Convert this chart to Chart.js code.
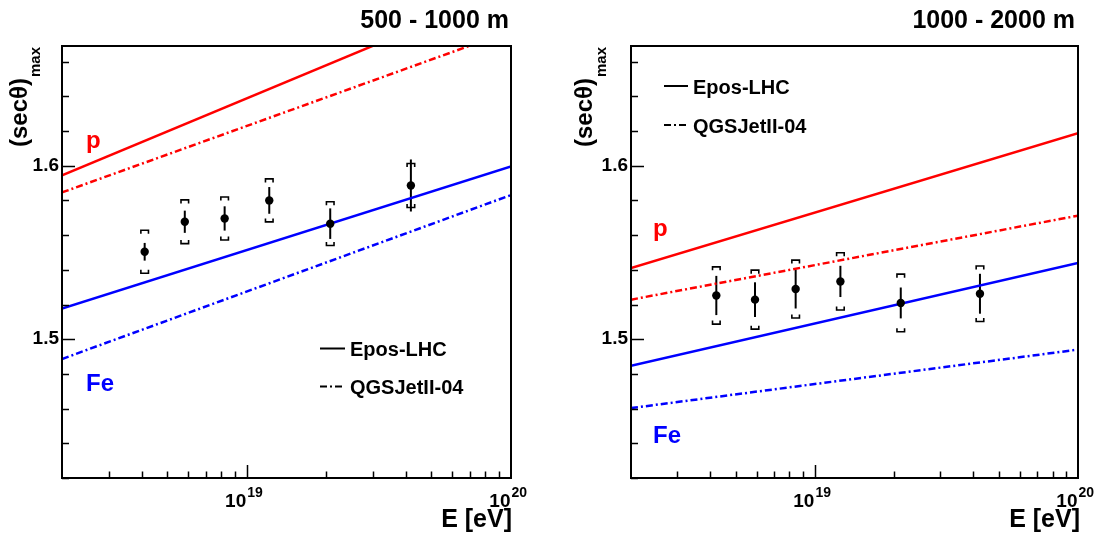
<!DOCTYPE html>
<html><head><meta charset="utf-8">
<script src="https://cdn.jsdelivr.net/npm/chart.js@4.4.1/dist/chart.umd.min.js"></script>
<style>
html,body{margin:0;padding:0;background:#fff;}
#wrap{position:relative;width:1100px;height:538px;overflow:hidden;}
.panel{position:absolute;top:0;width:550px;height:538px;}
</style></head><body>
<div id="wrap">
<div class="panel" style="left:0"><canvas id="c1"></canvas></div>
<div class="panel" style="left:550px"><canvas id="c2"></canvas></div>
</div>
<script>
// ---------- data ----------
const panelTitles = ['500 - 1000 m', '1000 - 2000 m'];
const legendLabels = ['Epos-LHC', 'QGSJetII-04'];
const primaryLabels = ['p', 'Fe'];
const yTickLabels = [1.5, 1.6];
const xTickValues = [1e19, 1e20];
const xTickBases = ['10', '10'];
const xTickExps = ['19', '20'];
const xAxisTitle = 'E [eV]';
const yAxisTitle = '(secθ)';
const yAxisSub = 'max';

const nearEnergy = [4.11e18, 5.83e18, 8.25e18, 1.217e19, 2.07e19, 4.18e19];
const nearSecMax = [1.5504, 1.5677, 1.5696, 1.5800, 1.5666, 1.5886];
const nearStat   = [0.0051, 0.0064, 0.0070, 0.0077, 0.0088, 0.0150];
const nearSys    = [0.0124, 0.0126, 0.0124, 0.0124, 0.0126, 0.0127];

const farEnergy = [4.22e18, 5.92e18, 8.45e18, 1.25e19, 2.12e19, 4.24e19];
const farSecMax = [1.5252, 1.5228, 1.5289, 1.5333, 1.5209, 1.5262];
const farStat   = [0.0113, 0.0100, 0.0112, 0.0090, 0.0089, 0.0115];
const farSys    = [0.0165, 0.0170, 0.0167, 0.0165, 0.0166, 0.0160];

const lineEnergy = [2e18, 1e20];
const nearProtonEpos = [1.5944, 1.7023];
const nearProtonQgs  = [1.5846, 1.6777];
const nearIronEpos   = [1.5176, 1.5996];
const nearIronQgs    = [1.4886, 1.5831];
const farProtonEpos  = [1.5410, 1.6188];
const farProtonQgs   = [1.5228, 1.5712];
const farIronEpos    = [1.4847, 1.5439];
const farIronQgs     = [1.4603, 1.4940];

const xRange = [2e18, 1e20];
const yRange = [1.42, 1.669];
const yStep = 0.02;

// ---------- style ----------
const FONT = '"Liberation Sans", Arial, Helvetica, sans-serif';
const RED = '#ff0000', BLUE = '#0000ff';
const DASHDOT = [7, 3, 2, 3];

function bold(size) { return 'bold ' + size + 'px ' + FONT; }

function makePanel(canvasId, d, L) {
  const pts = d.energy.map((e, i) => ({x: e, y: d.sec[i]}));
  const line = vals => lineEnergy.map((e, i) => ({x: e, y: vals[i]}));
  const lineDs = (vals, color, dash) => ({
    data: line(vals), borderColor: color, borderWidth: 2.5, borderDash: dash || [],
    showLine: true, pointRadius: 0, order: 2, clip: 0
  });

  const plugin = {
    id: 'rootStyle',
    beforeDatasetsDraw(chart) {
      const c = chart.ctx, xs = chart.scales.x, ys = chart.scales.y;
      c.save();
      c.strokeStyle = '#000';
      d.energy.forEach((e, i) => {
        const x = xs.getPixelForValue(e);
        c.lineWidth = 2;
        c.beginPath();
        c.moveTo(x, ys.getPixelForValue(d.sec[i] + d.stat[i]));
        c.lineTo(x, ys.getPixelForValue(d.sec[i] - d.stat[i]));
        c.stroke();
        const yt = ys.getPixelForValue(d.sec[i] + d.sys[i]);
        const yb = ys.getPixelForValue(d.sec[i] - d.sys[i]);
        c.lineWidth = 1.6;
        c.beginPath();
        c.moveTo(x - 3.8, yt + 3.5); c.lineTo(x - 3.8, yt); c.lineTo(x + 3.8, yt); c.lineTo(x + 3.8, yt + 3.5);
        c.moveTo(x - 3.8, yb - 3.5); c.lineTo(x - 3.8, yb); c.lineTo(x + 3.8, yb); c.lineTo(x + 3.8, yb - 3.5);
        c.stroke();
      });
      c.restore();
    },
    afterDraw(chart) {
      const c = chart.ctx, a = chart.chartArea, xs = chart.scales.x, ys = chart.scales.y;
      c.save();
      c.strokeStyle = '#000';
      c.lineWidth = 2;
      c.strokeRect(a.left, a.top, a.right - a.left, a.bottom - a.top);
      c.lineWidth = 1.5;
      c.beginPath();
      ys.ticks.forEach(t => {
        if (t.value < yRange[0] - 1e-9 || t.value > yRange[1] + 1e-9) return;
        const r = t.value / yStep;
        if (Math.abs(r - Math.round(r)) > 1e-6) return;
        const major = yTickLabels.some(v => Math.abs(v - t.value) < 1e-6);
        const y = Math.round(ys.getPixelForValue(t.value)) + 0.5;
        c.moveTo(a.left, y); c.lineTo(a.left + (major ? 13 : 7), y);
      });
      xs.ticks.forEach(t => {
        const v = t.value;
        const m = v / Math.pow(10, Math.floor(Math.log10(v) + 1e-9));
        if (Math.abs(m - Math.round(m)) > 1e-6) return;
        if (v <= xRange[0] * 1.0001 || v >= xRange[1] * 0.9999) return;
        const major = Math.abs(m - 1) < 1e-6;
        const x = Math.round(xs.getPixelForValue(v)) + 0.5;
        c.moveTo(x, a.bottom); c.lineTo(x, a.bottom - (major ? 13 : 6.5));
      });
      c.stroke();
      c.fillStyle = '#000';
      c.textBaseline = 'alphabetic';
      xTickValues.forEach((v, i) => {
        const x = xs.getPixelForValue(v);
        c.font = bold(19); c.textAlign = 'right';
        c.fillText(xTickBases[i], x - 0.5, 507);
        c.font = bold(14); c.textAlign = 'left';
        c.fillText(xTickExps[i], x + 0.5, 497);
      });
      c.font = bold(25); c.textAlign = 'right';
      c.fillText(xAxisTitle, a.right + L.xTitleDx, 527);
      c.fillText(d.title, L.titleRight, 28);
      c.save();
      c.font = bold(24);
      const w1 = c.measureText(yAxisTitle).width;
      c.font = bold(15);
      const w2 = c.measureText(yAxisSub).width;
      const startY = a.top + 1 + w1 + w2 + 1;
      c.translate(L.yTitleX, startY);
      c.rotate(-Math.PI / 2);
      c.textAlign = 'left';
      c.font = bold(24);
      c.fillText(yAxisTitle, 0, 0);
      c.font = bold(15);
      c.fillText(yAxisSub, w1 + 1, L.ySubDx);
      c.restore();
      c.font = bold(20); c.textAlign = 'left';
      legendLabels.forEach((lab, i) => {
        const ly = L.legendY[i];
        c.beginPath();
        c.strokeStyle = '#000'; c.lineWidth = 2;
        c.setLineDash(i === 0 ? [] : DASHDOT);
        c.moveTo(L.legendX0, ly); c.lineTo(L.legendX1, ly);
        c.stroke();
        c.setLineDash([]);
        c.fillText(lab, L.legendX1 + 5, ly + 7.5);
      });
      c.font = bold(24);
      c.fillStyle = RED;
      c.fillText(primaryLabels[0], L.pPos[0], L.pPos[1]);
      c.fillStyle = BLUE;
      c.fillText(primaryLabels[1], L.fePos[0], L.fePos[1]);
      c.restore();
    }
  };

  return new Chart(document.getElementById(canvasId), {
    type: 'scatter',
    data: {
      datasets: [
        lineDs(d.pEpos, RED), lineDs(d.pQgs, RED, DASHDOT),
        lineDs(d.feEpos, BLUE), lineDs(d.feQgs, BLUE, DASHDOT),
        {data: pts, pointRadius: 4.2, pointBackgroundColor: '#000', pointBorderColor: '#000',
         pointBorderWidth: 0, showLine: false, order: 0}
      ]
    },
    options: {
      responsive: true, maintainAspectRatio: false, animation: false,
      devicePixelRatio: 1,
      layout: {padding: {left: 0, right: L.padRight, top: 46, bottom: 0}},
      plugins: {legend: {display: false}, tooltip: {enabled: false}},
      events: [],
      scales: {
        x: {
          type: 'logarithmic', min: xRange[0], max: xRange[1], position: 'bottom',
          grid: {display: false, drawTicks: false}, border: {display: false},
          ticks: {display: false, autoSkip: false},
          afterFit(s) { s.height = 60; }
        },
        y: {
          type: 'linear', min: yRange[0], max: yRange[1], position: 'left',
          grid: {display: false, drawTicks: false}, border: {display: false},
          ticks: {
            stepSize: yStep, includeBounds: false, autoSkip: false, padding: 3,
            color: '#000', font: {family: FONT, size: 19, weight: 'bold'},
            callback: v => {
              const t = yTickLabels.find(u => Math.abs(u - v) < 1e-6);
              return t !== undefined ? t.toFixed(1) : '';
            }
          },
          afterFit(s) { s.width = L.frameLeft; }
        }
      }
    },
    plugins: [plugin]
  });
}

makePanel('c1', {
  title: panelTitles[0], energy: nearEnergy, sec: nearSecMax, stat: nearStat, sys: nearSys,
  pEpos: nearProtonEpos, pQgs: nearProtonQgs, feEpos: nearIronEpos, feQgs: nearIronQgs
}, {
  frameLeft: 62, padRight: 39, titleRight: 509, xTitleDx: 1,
  yTitleX: 26.5, ySubDx: 13.5,
  legendX0: 320, legendX1: 345, legendY: [348.5, 386.5],
  pPos: [86, 148], fePos: [86, 391]
});

makePanel('c2', {
  title: panelTitles[1], energy: farEnergy, sec: farSecMax, stat: farStat, sys: farSys,
  pEpos: farProtonEpos, pQgs: farProtonQgs, feEpos: farIronEpos, feQgs: farIronQgs
}, {
  frameLeft: 81, padRight: 22, titleRight: 525, xTitleDx: 2,
  yTitleX: 42, ySubDx: 14,
  legendX0: 114, legendX1: 138, legendY: [86, 125],
  pPos: [103, 236], fePos: [103, 443]
});
</script>
</body></html>
